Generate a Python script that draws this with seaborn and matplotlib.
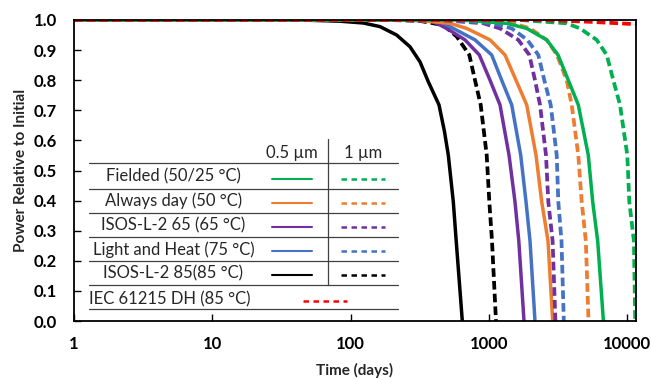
import matplotlib
matplotlib.use("Agg")
import matplotlib.pyplot as plt
import seaborn as sns
import pandas as pd

# ---- data (time in days, power relative to initial) ----
black_solid_t = [1, 43.1, 83.8, 123.6, 163.2, 215.4, 268.9, 317.6, 364.6, 435.7, 477.5, 508.7, 552.8, 580.2, 642.2]
black_solid_p = [1.0, 1.0, 0.996, 0.99, 0.978, 0.95, 0.911, 0.861, 0.795, 0.718, 0.629, 0.551, 0.396, 0.266, 0.0]

black_dash_t = [1, 192.7, 317.6, 468.1, 585.1, 721.6, 793.4, 872.3, 964.0, 1007, 1053, 1125]
black_dash_p = [1.0, 1.0, 0.997, 0.983, 0.945, 0.884, 0.80, 0.718, 0.551, 0.396, 0.266, 0.0]

purple_solid_t = [1, 227.6, 375.1, 414.5, 495.4, 671.7, 852.3, 1019, 1203, 1398, 1544, 1645, 1794]
purple_solid_p = [1.0, 1.0, 0.997, 0.99, 0.972, 0.934, 0.884, 0.80, 0.718, 0.551, 0.396, 0.266, 0.0]

blue_solid_t = [1, 268.9, 443.0, 552.8, 793.4, 1047, 1237, 1462, 1698, 1855, 1983, 2154]
blue_solid_p = [1.0, 1.0, 0.995, 0.972, 0.934, 0.884, 0.80, 0.718, 0.551, 0.396, 0.266, 0.0]

orange_solid_t = [1, 292.3, 523.2, 691.0, 1019, 1307, 1570, 1877, 2191, 2409, 2675, 2893]
orange_solid_p = [1.0, 1.0, 0.989, 0.972, 0.934, 0.884, 0.80, 0.718, 0.551, 0.396, 0.266, 0.0]

purple_dash_t = [1, 443.0, 911.0, 1203, 1632, 1960, 2154, 2342, 2587, 2689, 2888, 3026]
purple_dash_p = [1.0, 1.0, 0.989, 0.972, 0.934, 0.884, 0.80, 0.718, 0.551, 0.396, 0.266, 0.0]

blue_dash_t = [1, 523.2, 1076, 1462, 1896, 2276, 2515, 2798, 3092, 3176, 3349, 3480]
blue_dash_p = [1.0, 1.0, 0.989, 0.972, 0.934, 0.884, 0.80, 0.718, 0.551, 0.396, 0.266, 0.0]

orange_dash_t = [1, 730.0, 1501, 1983, 2618, 3108, 3651, 3970, 4430, 4688, 5021, 5251]
orange_dash_p = [1.0, 1.0, 0.989, 0.972, 0.934, 0.884, 0.80, 0.718, 0.551, 0.396, 0.266, 0.0]

green_solid_t = [1, 618.1, 1345, 1877, 2618, 3160, 3751, 4430, 5232, 5630, 6118, 6729]
green_solid_p = [1.0, 1.0, 0.989, 0.972, 0.934, 0.884, 0.80, 0.718, 0.551, 0.396, 0.266, 0.0]

green_dash_t = [1, 1679, 3651, 4557, 6017, 7110, 7935, 8870, 10016, 10356, 11180, 11427]
green_dash_p = [1.0, 1.0, 0.989, 0.972, 0.934, 0.884, 0.80, 0.718, 0.551, 0.396, 0.266, 0.0]

red_dash_t = [1, 2462, 5383, 11577]
red_dash_p = [1.0, 1.0, 0.994, 0.986]

row_labels = ["Fielded (50/25 °C)", "Always day (50 °C)", "ISOS-L-2 65 (65 °C)",
              "Light and Heat (75 °C)", "ISOS-L-2 85(85 °C)"]
iec_label = "IEC 61215 DH (85 °C)"
col_labels = ["0.5 µm", "1 µm"]
x_ticks = [1, 10, 100, 1000, 10000]
y_ticks = [0.0, 0.1, 0.2, 0.3, 0.4, 0.5, 0.6, 0.7, 0.8, 0.9, 1.0]

GREEN = "#00B050"
ORANGE = "#ED7D31"
PURPLE = "#7030A0"
BLUE = "#4472C4"
BLACK = "#000000"
RED = "#FF0000"

sns.set_style("ticks")
plt.rcParams["font.family"] = ["Lato", "DejaVu Sans"]

fig = plt.figure(figsize=(6.51, 3.79), dpi=100)
ax = fig.add_axes([74 / 651, 1 - 321 / 379, (636 - 74) / 651, (321 - 20) / 379])

LW_S = 2.5
LW_D = 2.7
DASH = (0, (2.3, 1.1))

series = [
    (black_solid_t, black_solid_p, BLACK, "-"),
    (black_dash_t, black_dash_p, BLACK, DASH),
    (purple_solid_t, purple_solid_p, PURPLE, "-"),
    (blue_solid_t, blue_solid_p, BLUE, "-"),
    (orange_solid_t, orange_solid_p, ORANGE, "-"),
    (purple_dash_t, purple_dash_p, PURPLE, DASH),
    (blue_dash_t, blue_dash_p, BLUE, DASH),
    (orange_dash_t, orange_dash_p, ORANGE, DASH),
    (green_solid_t, green_solid_p, GREEN, "-"),
    (green_dash_t, green_dash_p, GREEN, DASH),
    (red_dash_t, red_dash_p, RED, DASH),
]
for t, p, c, ls in series:
    df = pd.DataFrame({"t": t, "p": p})
    sns.lineplot(data=df, x="t", y="p", color=c, ax=ax,
                 lw=(LW_S if ls == "-" else LW_D), sort=False, estimator=None)
    ln = ax.get_lines()[-1]
    ln.set_linestyle(ls)
    ln.set_dash_capstyle("butt")
    ln.set_solid_joinstyle("round")

ax.set_xscale("log")
ax.set_xlim(1, 11577)
ax.set_ylim(0, 1.0)
ax.set_xticks(x_ticks)
ax.set_xticklabels([str(v) for v in x_ticks])
ax.xaxis.set_minor_locator(matplotlib.ticker.NullLocator())
ax.set_yticks(y_ticks)
ax.set_yticklabels([f"{v:.1f}" for v in y_ticks])
ax.tick_params(axis="both", direction="in", length=5, width=1, colors="black",
               labelsize=12)
ax.tick_params(axis="y", pad=12)
ax.tick_params(axis="x", pad=11)
for lab in ax.get_xticklabels() + ax.get_yticklabels():
    lab.set_fontweight("bold")
for sp in ax.spines.values():
    sp.set_visible(True)
    sp.set_linewidth(1.3)
    sp.set_color("black")
ax.set_xlabel("Time (days)", fontsize=11, fontweight="bold", labelpad=8)
ax.set_ylabel("Power Relative to Initial", fontsize=11, fontweight="bold", labelpad=4)

# ---- table-style legend drawn in axes coordinates ----
tr = ax.transAxes
grid_c = "#404040"
hl_y = [0.524, 0.438, 0.360, 0.278, 0.200, 0.120, 0.040]
for y in hl_y:
    ax.plot([0.027, 0.577], [y, y], color=grid_c, lw=0.9, transform=tr)
ax.plot([0.4525, 0.4525], [0.604, 0.120], color=grid_c, lw=0.9, transform=tr)
ax.text(0.388, 0.559, col_labels[0], transform=tr, ha="center", va="center", fontsize=12)
ax.text(0.515, 0.559, col_labels[1], transform=tr, ha="center", va="center", fontsize=12)
row_y = [0.479, 0.399, 0.317, 0.238, 0.158]
row_colors = [GREEN, ORANGE, PURPLE, BLUE, BLACK]
for lab, y, c in zip(row_labels, row_y, row_colors):
    ax.text(0.177, y, lab, transform=tr, ha="center", va="center", fontsize=12)
    ax.plot([0.352, 0.424], [y - 0.006, y - 0.006], color=c, lw=1.5, transform=tr)
    ax.plot([0.475, 0.553], [y - 0.006, y - 0.006], color=c, lw=1.8,
            linestyle=(0, (2.2, 1.8)), transform=tr)
ax.text(0.027, 0.072, iec_label, transform=tr, ha="left", va="center", fontsize=12)
ax.plot([0.407, 0.485], [0.066, 0.066], color=RED, lw=1.8,
        linestyle=(0, (2.2, 1.8)), transform=tr)

fig.savefig("out.png", dpi=100)
